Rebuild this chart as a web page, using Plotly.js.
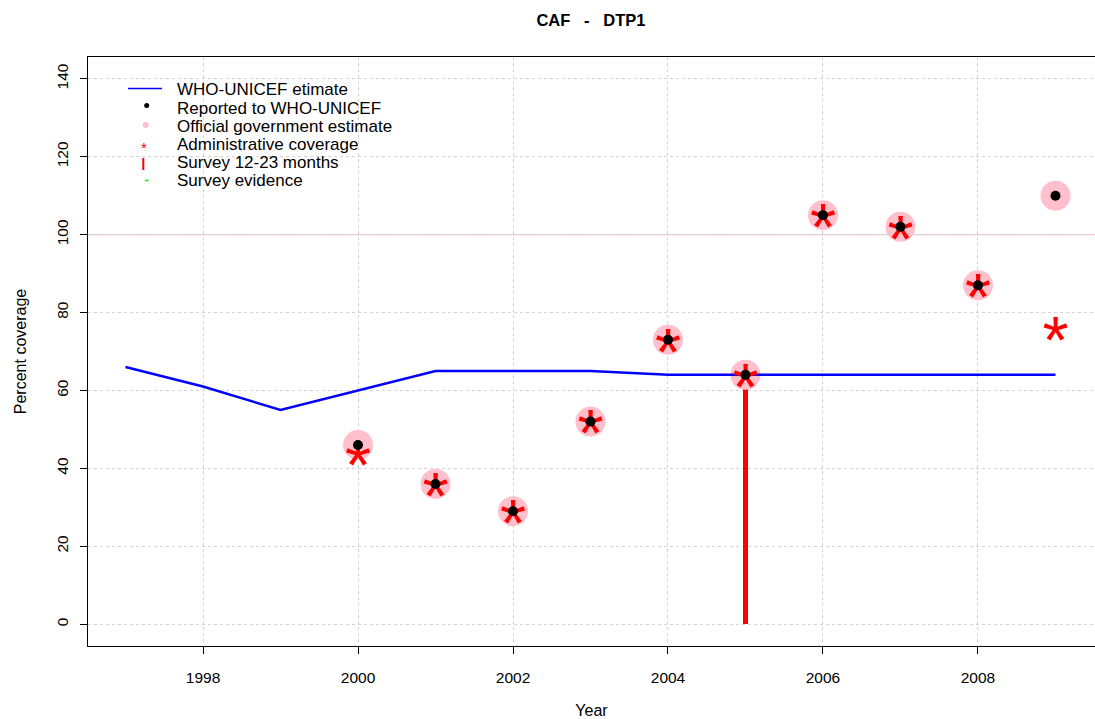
<!DOCTYPE html>
<html><head><meta charset="utf-8">
<script src="https://cdn.plot.ly/plotly-3.0.1.min.js"></script>
<style>html,body{margin:0;padding:0;background:#fff;} #chart{width:1095px;height:719px;}</style>
</head><body><div id="chart"></div>
<script>
// ---- data ----
const wuenicYears = [1997,1998,1999,2000,2001,2002,2003,2004,2005,2006,2007,2008,2009];
const wuenicEstimate = [66,61,55,60,65,65,65,64,64,64,64,64,64];
const reportedYears = [2000,2001,2002,2003,2004,2005,2006,2007,2008,2009];
const reportedValues = [46,36,29,52,73,64,105,102,87,110];
const govYears = [2000,2001,2002,2003,2004,2005,2006,2007,2008,2009];
const govEstimate = [46,36,29,52,73,64,105,102,87,110];
const adminYears = [2000,2001,2002,2003,2004,2005,2006,2007,2008,2009];
const adminCoverage = [44,36,29,52,73,64,105,102,87,76];
const surveyYears = [2005];
const survey1223 = [64];
const xTickVals = [1998,2000,2002,2004,2006,2008];
const yTickVals = [0,20,40,60,80,100,120,140];
const referenceLevel = 100;
const legendLabels = ["WHO-UNICEF etimate","Reported to WHO-UNICEF","Official government estimate","Administrative coverage","Survey 12-23 months","Survey evidence"];
const chartTitle = "CAF   -   DTP1";

// ---- layout geometry ----
const W = 1095, H = 719, ML = 88, MR = 0, MT = 57, MB = 73;
const PW = W - ML - MR, PH = H - MT - MB;
const px = v => (v - ML) / PW;
const py = v => (H - MB - v) / PH;
const sans = "Liberation Sans, Arial, sans-serif";

const traces = [
  {type:'scatter', mode:'markers', x:govYears, y:govEstimate, name:legendLabels[2], showlegend:false,
   marker:{color:'#FFC0CB', size:30}},
  {type:'scatter', mode:'lines', x:wuenicYears, y:wuenicEstimate, name:legendLabels[0], showlegend:false,
   line:{color:'#0000FF', width:2.5}},
  // administrative coverage drawn with an asterisk glyph (as in the original R plot);
  // the baseline shift only recentres the glyph on its point
  {type:'scatter', mode:'text', x:adminYears, y:adminCoverage, name:legendLabels[3], showlegend:false,
   text:adminYears.map(()=>'<span style="baseline-shift:-0.27em">*</span>'), textposition:'middle center', cliponaxis:false,
   textfont:{family:sans, size:67, color:'#FF0000'}},
  {type:'scatter', mode:'markers', x:reportedYears, y:reportedValues, name:legendLabels[1], showlegend:false,
   marker:{color:'#000000', size:10}},
  {type:'bar', x:surveyYears, y:survey1223, name:legendLabels[4], showlegend:false,
   width:0.075, marker:{color:'#FF0000', line:{width:0}}}
];

// manual legend (no box), positioned like the reference
const rowY = [90,108,126.5,144.5,162.5,180.5];
const annotations = legendLabels.map((t,i)=>({
  text:t, xref:'paper', yref:'paper', x:px(175), y:py(rowY[i]), xanchor:'left', yanchor:'middle',
  showarrow:false, font:{family:sans, size:17, color:'#000'}
}));
annotations.push({text:'*', xref:'paper', yref:'paper', x:px(143.5), y:py(147), xanchor:'center', yanchor:'middle',
  showarrow:false, font:{family:sans, size:15, color:'#FF0000'}});

const shapes = [
  {type:'line', xref:'paper', yref:'y', x0:0, x1:1, y0:referenceLevel, y1:referenceLevel, layer:'below',
   line:{color:'#FFC0CB', width:1.2}},
  {type:'line', xref:'paper', yref:'paper', x0:px(128), x1:px(162), y0:py(88.5), y1:py(88.5), line:{color:'#0000FF', width:1.5}},
  {type:'circle', xref:'paper', yref:'paper', x0:px(144.2), x1:px(149.2), y0:py(103), y1:py(108), fillcolor:'#000', line:{width:0}},
  {type:'circle', xref:'paper', yref:'paper', x0:px(142.7), x1:px(148.7), y0:py(122), y1:py(128), fillcolor:'#FFC0CB', line:{width:0}},
  {type:'line', xref:'paper', yref:'paper', x0:px(143.3), x1:px(143.3), y0:py(158), y1:py(170), line:{color:'#FF0000', width:2}},
  {type:'line', xref:'paper', yref:'paper', x0:px(145), x1:px(148.5), y0:py(180.5), y1:py(180.5), line:{color:'#00FF00', width:1.5}}
];

const layout = {
  width:W, height:H, margin:{l:ML, r:MR, t:MT, b:MB, pad:0},
  paper_bgcolor:'#fff', plot_bgcolor:'#fff', showlegend:false,
  title:{text:chartTitle, x:px(591), xref:'paper', xanchor:'center', y:1-20/H, yref:'container', yanchor:'middle',
         font:{family:sans, size:16.5, color:'#000', weight:'bold'}},
  xaxis:{range:[1996.516, 2009.51], tickvals:xTickVals, ticktext:xTickVals.map(String),
         showline:true, linecolor:'#000', linewidth:1, mirror:true, zeroline:false,
         ticks:'outside', ticklen:7, tickcolor:'#000', tickwidth:1, ticklabelstandoff:10,
         showgrid:true, gridcolor:'#D3D3D3', griddash:'dot', gridwidth:1,
         tickfont:{family:sans, size:15.5, color:'#000'},
         title:{text:'Year', font:{family:sans, size:16, color:'#000'}, standoff:22}},
  yaxis:{range:[-5.6, 145.6], tickvals:yTickVals, ticktext:yTickVals.map(String),
         showline:true, linecolor:'#000', linewidth:1, mirror:false, zeroline:false,
         ticks:'outside', ticklen:7, tickcolor:'#000', tickwidth:1, tickangle:-90, ticklabelstandoff:6,
         showgrid:true, gridcolor:'#D3D3D3', griddash:'dot', gridwidth:1,
         tickfont:{family:sans, size:15.5, color:'#000'},
         title:{text:'Percent coverage', font:{family:sans, size:16, color:'#000'}, standoff:23}},
  annotations:annotations, shapes:shapes, bargap:0
};

Plotly.newPlot('chart', traces, layout, {displayModeBar:false, staticPlot:true});
</script></body></html>
